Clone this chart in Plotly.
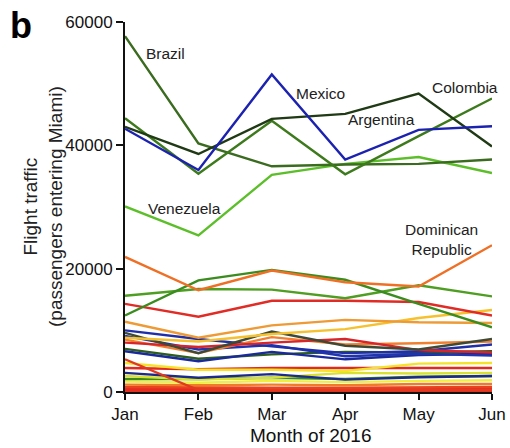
import plotly.graph_objects as go

# Months on the x axis
months = ["Jan", "Feb", "Mar", "Apr", "May", "Jun"]

# Passengers entering Miami, per origin country (labelled routes)
brazil = [57700, 40300, 36600, 36900, 37000, 37700]
colombia = [44400, 35400, 44000, 35300, 41500, 47600]
argentina = [43000, 38600, 44300, 45100, 48400, 39800]
mexico = [42700, 36000, 51500, 37700, 42500, 43100]
venezuela = [30100, 25400, 35200, 37000, 38100, 35500]
dominican_republic = [21900, 16500, 19700, 17800, 17100, 23800]

# Remaining, smaller routes (passengers)
route_a = [12400, 18100, 19800, 18200, 14300, 10500]
route_b = [15600, 16700, 16600, 15200, 17300, 15500]
route_c = [14300, 12200, 14800, 14800, 14600, 12400]
route_d = [11400, 8800, 10800, 11700, 11300, 11200]
route_e = [8800, 8200, 9400, 10200, 12000, 13300]
route_f = [10000, 8600, 7400, 6300, 6600, 7700]
route_g = [9100, 6900, 7600, 5800, 6200, 5900]
route_h = [6600, 5000, 6500, 5300, 6000, 6200]
route_i = [9600, 6300, 9800, 7500, 6900, 8600]
route_j = [8000, 7300, 8000, 8600, 6800, 6400]
route_k = [8500, 6300, 8900, 7700, 7900, 8200]
route_l = [7000, 5400, 6100, 6500, 6400, 6600]
route_m = [5300, 300, 300, 300, 300, 300]
route_n = [4700, 3600, 3600, 3400, 4600, 4700]
route_o = [3900, 3700, 3900, 3900, 3900, 3900]
route_p = [3100, 2300, 2900, 2000, 2400, 2600]
route_q = [2600, 2000, 2300, 3100, 3000, 3100]
route_r = [2100, 2100, 2300, 2100, 2500, 2600]
route_s = [1700, 1500, 1800, 1600, 1800, 1900]
route_t = [1200, 1100, 1200, 1100, 1300, 1300]
route_u = [800, 700, 700, 700, 800, 800]
route_v = [500, 500, 500, 500, 500, 500]
route_w = [200, 200, 200, 200, 200, 200]

# y-axis tick labels
y_ticks = [0, 20000, 40000, 60000]
y_tick_labels = ["0", "20000", "40000", "60000"]

small_routes = [
    (route_w, "#e3301f"), (route_v, "#e42a22"), (route_u, "#e8421f"),
    (route_t, "#f07a2c"), (route_s, "#f2ee3c"), (route_r, "#3a8a20"),
    (route_q, "#d9e032"), (route_p, "#1c2a8a"), (route_o, "#e22a22"),
    (route_n, "#f5e32a"), (route_m, "#e03a20"), (route_l, "#2d5e1c"),
    (route_h, "#1a2a9a"), (route_g, "#2034b0"), (route_f, "#1f2fa8"),
    (route_k, "#f08030"), (route_j, "#d8252a"), (route_i, "#3e4a36"),
    (route_e, "#f6c12e"), (route_d, "#ee9a35"), (route_c, "#e12b25"),
    (route_b, "#4e9e22"), (route_a, "#3b8c1f"),
]

main_routes = [
    (dominican_republic, "#ef6f24"),
    (venezuela, "#5cbf2a"),
    (brazil, "#3a6b1f"),
    (colombia, "#3d7a1c"),
    (argentina, "#1f3a14"),
    (mexico, "#1c22b0"),
]

x_pos = list(range(len(months)))

fig = go.Figure()
for values, color in small_routes + main_routes:
    fig.add_trace(go.Scatter(
        x=x_pos, y=values, mode="lines",
        line=dict(color=color, width=2.4),
        showlegend=False, hoverinfo="skip",
    ))

font = "Liberation Sans, Arial, Helvetica, sans-serif"

fig.update_layout(
    width=510, height=448,
    margin=dict(l=125, r=18, t=22, b=56),
    paper_bgcolor="white", plot_bgcolor="white",
    font=dict(family=font, color="#111111"),
    showlegend=False,
)

fig.update_xaxes(
    range=[0, 5], tickmode="array", tickvals=x_pos, ticktext=months,
    automargin=False,
    showgrid=False, zeroline=False,
    showline=True, linecolor="#111111", linewidth=2,
    ticks="outside", ticklen=6, tickwidth=2, tickcolor="#111111",
    tickfont=dict(size=17, family=font, color="#111111"),
)
fig.update_yaxes(
    range=[0, 60000], tickmode="array", tickvals=y_ticks, ticktext=y_tick_labels,
    automargin=False,
    showgrid=False, zeroline=False,
    showline=True, linecolor="#111111", linewidth=2,
    ticks="outside", ticklen=7, tickwidth=2, tickcolor="#111111",
    tickfont=dict(size=17, family=font, color="#111111"),
)

# Pixel helpers for annotations placed relative to the plotting area
PL, PR, PT, PB = 125, 492, 22, 392

def px_x(px):
    return (px - PL) / (PR - PL)

def px_y(py):
    return (PB - py) / (PB - PT)

labels = [
    ("Brazil", 165, 53),
    ("Mexico", 320, 93),
    ("Colombia", 465, 88),
    ("Argentina", 381, 120),
    ("Venezuela", 184, 208),
    ("Dominican<br>Republic", 441, 239),
]
for text, cx, cy in labels:
    fig.add_annotation(
        x=px_x(cx), y=px_y(cy), xref="paper", yref="paper",
        text=text, showarrow=False, xanchor="center", yanchor="middle",
        font=dict(size=15.5, family=font, color="#222222"),
    )

fig.add_annotation(
    x=px_x(310), y=px_y(435), xref="paper", yref="paper",
    text="Month of 2016", showarrow=False, xanchor="center", yanchor="middle",
    font=dict(size=19, family=font, color="#111111"),
)

fig.add_annotation(
    x=px_x(43), y=px_y(207), xref="paper", yref="paper",
    text="Flight traffic<br>(passengers entering Miami)", textangle=-90,
    showarrow=False, xanchor="center", yanchor="middle",
    font=dict(size=19, family=font, color="#222222"),
)

fig.add_annotation(
    x=px_x(8), y=px_y(3), xref="paper", yref="paper",
    text="<b>b</b>", showarrow=False, xanchor="left", yanchor="top",
    font=dict(size=36, family=font, color="#000000"),
)

fig.write_html("out.html")
